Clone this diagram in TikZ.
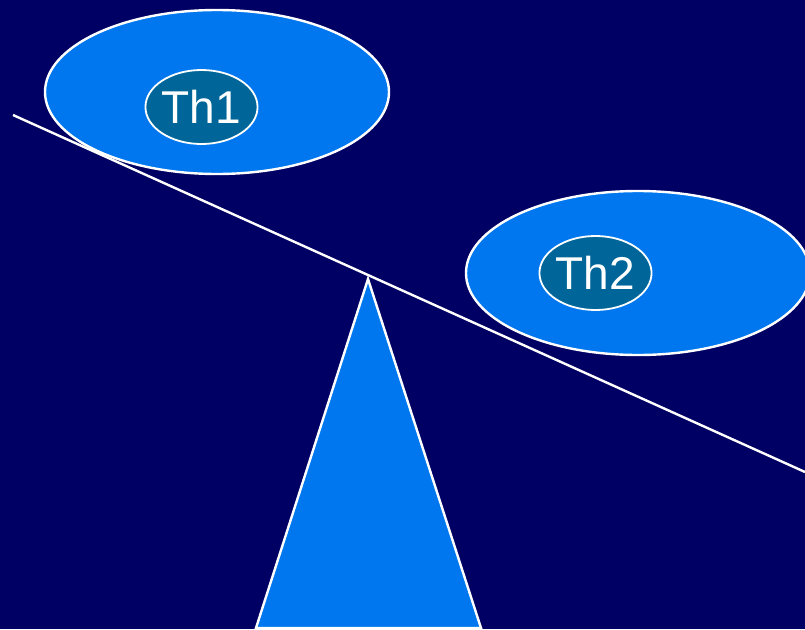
\documentclass[tikz,border=0pt]{standalone}
\usepackage{fontspec}
\setmainfont{Liberation Sans}
\usetikzlibrary{shapes.geometric}
\definecolor{navybg}{RGB}{0,0,100}
\definecolor{skyblue}{RGB}{0,119,238}
\definecolor{tealblue}{RGB}{0,102,153}
\tikzset{
  pan/.style={ellipse, draw=white, line width=2.4pt, fill=skyblue,
    minimum width=344pt, minimum height=164pt, inner sep=0pt},
  weight/.style={ellipse, draw=white, line width=1.8pt, fill=tealblue,
    minimum width=105pt, minimum height=74pt, inner sep=0pt,
    text=white, font=\fontsize{46}{46}\selectfont}
}
\begin{document}
\begin{tikzpicture}[x=1pt,y=-1pt]
    % background
    \useasboundingbox (0,0) rectangle (805,629);
    \clip (0,0) rectangle (805,629);
    \fill[navybg] (0,0) rectangle (805,629);

    % beam
    \coordinate (beamL) at (13,115);
    \coordinate (beamR) at (805,472);
    \draw[white, line width=2.4pt] (beamL) -- (beamR);

    % fulcrum
    \draw[white, line width=2.4pt, fill=skyblue, line join=miter]
        (368,279) -- (481,628) -- (256,628) -- cycle;

    % left pan
    \node[pan] (pan1) at (217,92) {};
    \node[weight] (th1) at (201.5,107) {Th1};

    % right pan
    \node[pan] (pan2) at (638,273) {};
    \node[weight] (th2) at (595.5,273) {Th2};
\end{tikzpicture}
\end{document}
